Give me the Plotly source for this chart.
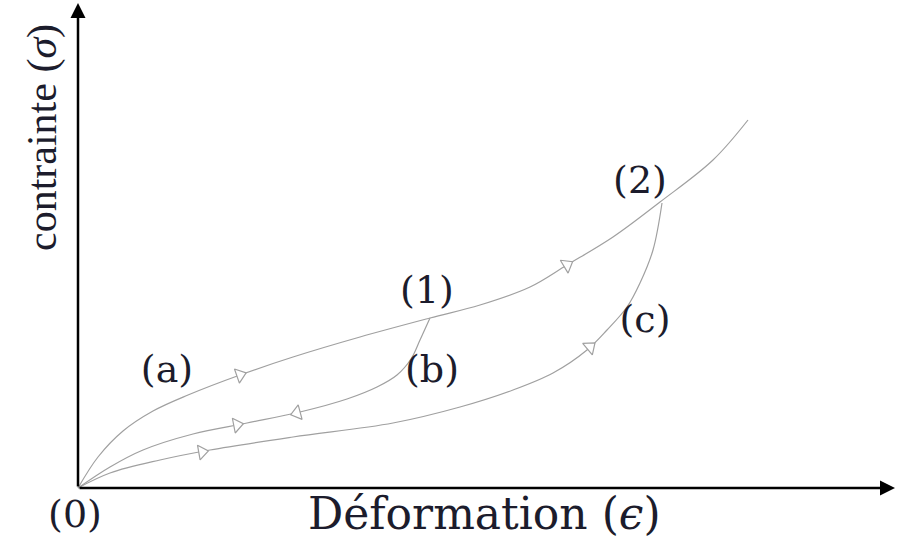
import plotly.graph_objects as go

# curve points (schematic units, origin at (0))
a_x = [0, 20, 45, 75, 110, 162, 215, 282, 352, 402, 452, 489, 535, 582, 635, 670]
a_y = [0, 31, 57, 77, 93, 113, 131, 151, 170, 183, 201, 223, 251, 286, 328, 368]

b_x = [352, 342, 333, 319, 299, 269, 222, 169, 115, 65, 32, 0]
b_y = [170, 148, 129, 113, 101, 89, 76, 65, 54, 38, 21, 0]

c_x = [584, 575, 562, 549, 529, 509, 475, 435, 382, 315, 215, 132, 82, 32, 0]
c_y = [285, 238, 205, 181, 158, 138, 115, 98, 81, 65, 51, 38, 28, 15, 0]

# direction arrows on the curves
arr_x = [162, 489, 159, 219, 124, 512]
arr_y = [113, 223, 63, 75, 36, 141]
arr_angle = [-19, -31, -11, 165, -10, -40]

# point / curve labels
lab_text = ["(a)", "(b)", "(c)", "(0)", "(1)", "(2)"]
lab_x = [89, 354, 567, -3, 349, 562]
lab_y = [116, 116, 166, -29, 195, 305]

grey = "#a0a0a0"
ink = "#1c1c2c"
wide_serif = "DejaVu Serif, serif"
serif = "Liberation Serif, Times New Roman, serif"

fig = go.Figure()
for xs, ys in [(a_x, a_y), (b_x, b_y), (c_x, c_y)]:
    fig.add_trace(go.Scatter(x=xs, y=ys, mode="lines",
                             line=dict(color=grey, width=1.2, shape="spline", smoothing=1.0),
                             hoverinfo="skip", showlegend=False))

fig.add_trace(go.Scatter(x=arr_x, y=arr_y, mode="markers",
                         marker=dict(symbol="triangle-right", size=13, angle=arr_angle, color="white",
                                     line=dict(color=grey, width=1.2)),
                         hoverinfo="skip", showlegend=False))

fig.add_trace(go.Scatter(x=lab_x, y=lab_y, mode="text", text=lab_text,
                         textfont=dict(family=wide_serif, size=38, color=ink),
                         hoverinfo="skip", showlegend=False))

# axes drawn as arrows
fig.add_annotation(x=0, y=485, ax=0, ay=0, xref="x", yref="y", axref="x", ayref="y",
                   text="", showarrow=True, arrowhead=2, arrowsize=1.2, arrowwidth=2.5, arrowcolor="black")
fig.add_annotation(x=817, y=0, ax=0, ay=0, xref="x", yref="y", axref="x", ayref="y",
                   text="", showarrow=True, arrowhead=2, arrowsize=1.2, arrowwidth=2.5, arrowcolor="black")

fig.add_annotation(x=406, y=-25, text="Déformation (<i>ϵ</i>)", showarrow=False,
                   font=dict(family=wide_serif, size=44, color=ink))
fig.add_annotation(x=-36, y=350, text="contrainte (<i>σ</i>)", showarrow=False, textangle=-90,
                   font=dict(family=serif, size=42, color=ink))

fig.update_xaxes(range=[-78, 831], visible=False)
fig.update_yaxes(range=[-51, 488], visible=False)
fig.update_layout(width=909, height=539, margin=dict(l=0, r=0, t=0, b=0),
                  plot_bgcolor="white", paper_bgcolor="white")

fig.write_html("out.html", config={"displayModeBar": False},
               post_script="document.body.style.margin='0';")
